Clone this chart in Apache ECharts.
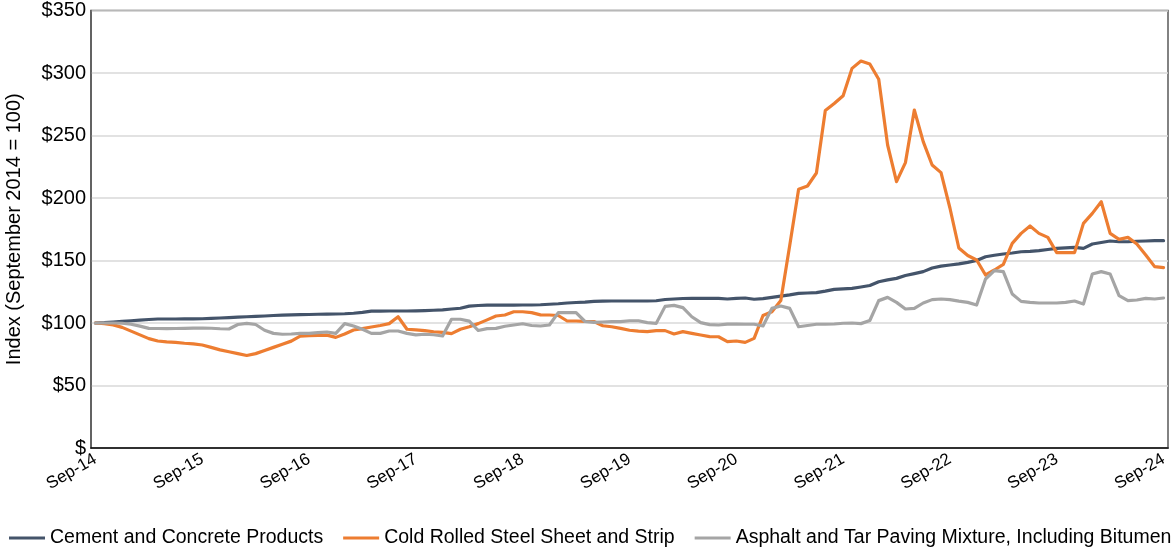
<!DOCTYPE html>
<html>
<head>
<meta charset="utf-8">
<script src="https://cdn.jsdelivr.net/npm/echarts@6/dist/echarts.min.js"></script>
<style>
  html, body { margin: 0; padding: 0; background: #fff; }
  #chart { width: 1176px; height: 547px; }
</style>
</head>
<body>
<div id="chart"></div>
<script>
// monthly index, Sep-14 = 100
const monthNames = ['Jan','Feb','Mar','Apr','May','Jun','Jul','Aug','Sep','Oct','Nov','Dec'];
const months = [];
for (let i = 0; i < 121; i++) {
  const m = (8 + i) % 12;
  const y = 14 + Math.floor((8 + i) / 12);
  months.push(monthNames[m] + '-' + y);
}

const seriesNames = [
  'Cement and Concrete Products',
  'Cold Rolled Steel Sheet and Strip',
  'Asphalt and Tar Paving Mixture, Including Bitumen'
];

const cement = [
  100, 100.3, 100.8, 101.3, 101.8, 102.3, 102.8, 103.2, 103.2, 103.2,
  103.3, 103.3, 103.4, 103.7, 104, 104.3, 104.7, 105, 105.3, 105.6,
  106, 106.3, 106.5, 106.7, 106.8, 107, 107.1, 107.2, 107.4, 107.8,
  108.5, 109.5, 109.5, 109.6, 109.6, 109.6, 109.7, 109.9, 110.2, 110.5,
  111.2, 111.8, 113.5, 114, 114.3, 114.3, 114.3, 114.3, 114.4, 114.4,
  114.6, 115, 115.4, 116, 116.4, 116.7, 117.3, 117.5, 117.6, 117.6,
  117.6, 117.6, 117.6, 117.8, 118.8, 119.2, 119.6, 119.7, 119.7, 119.8,
  119.7, 119.2, 119.7, 120, 119, 119.5, 120.5, 121.5, 122.5, 123.7,
  124, 124.3, 125.5, 126.9, 127.3, 127.7, 128.8, 130, 133, 134.5,
  135.7, 138, 139.5, 141.1, 144, 145.5, 146.4, 147.3, 148.5, 150,
  153, 154.2, 155.2, 156, 157, 157.3, 157.9, 158.8, 159.7, 160.1,
  160.5, 159.7, 163.2, 164.4, 165.6, 165, 165, 165.4, 165.6, 165.9,
  165.9
];

const steel = [
  100, 99.5, 98.5, 96.5, 93.5, 90.5, 87.5, 85.6, 84.9, 84.5,
  83.8, 83.3, 82.4, 80.5, 78.5, 77, 75.5, 74, 75.5, 78,
  80.5, 83, 85.5, 89.5, 89.8, 90.1, 90.3, 88.5, 91.2, 94.4,
  95.5, 96.8, 98, 99.5, 105, 95, 94.5, 93.9, 93, 92.5,
  91.5, 95, 97, 99.5, 102.5, 105.6, 106.4, 109, 109, 108.3,
  106.5, 106.4, 106, 101.6, 101.6, 101.3, 101.2, 97.8, 97, 95.7,
  94.2, 93.5, 93.1, 93.9, 93.9, 91.2, 93.1, 91.7, 90.4, 89.1,
  89, 85.1, 85.6, 84.5, 87.7, 106, 109, 118, 162, 207,
  209.6, 220, 270, 275.6, 281.8, 303.7, 309.6, 307.2, 295, 242.4,
  213.1, 228.3, 270.4, 245.1, 226.4, 220.3, 192, 160, 154, 150.4,
  138.4, 142.4, 146.9, 163.7, 171.7, 177.6, 171.7, 168.5, 156.3, 156.3,
  156.3, 179.7, 187.7, 197, 171.7, 166.9, 168.5, 163.2, 154.4, 145.1,
  144.3
];

const asphalt = [
  100, 100, 100, 99.8, 99, 97.5, 95.7, 95.6, 95.5, 95.6,
  95.7, 95.9, 96, 95.8, 95.4, 95.2, 98.8, 99.7, 98.8, 94.2,
  91.7, 91, 91.2, 91.7, 91.7, 92.3, 92.8, 91.7, 99.5, 97.6,
  95, 91.7, 91.7, 93.6, 93.6, 91.7, 90.5, 91, 90.6, 89.6,
  103, 103, 101.5, 94, 95.5, 95.7, 97.4, 98.4, 99.4, 98,
  97.6, 98.4, 108.3, 108.3, 108.3, 101.2, 100.5, 100.8, 101.1, 101.1,
  101.8, 101.8, 100.3, 99.7, 113.3, 114.1, 112.3, 105, 100.3, 98.7,
  98.4, 99.1, 99.2, 99, 99, 97.6, 111.7, 113.6, 111.7, 97,
  98, 99, 99, 99.2, 99.8, 100, 99.5, 102, 117.9, 120.5,
  116.5, 111.2, 111.7, 116, 118.7, 119.2, 118.7, 117.5, 116.5, 114.4,
  135.2, 141.9, 141.1, 123.2, 117.3, 116.5, 116, 116, 116, 116.5,
  117.6, 115.2, 139.2, 141.1, 139.2, 121.9, 117.9, 118.4, 119.7, 119.2,
  120
];

const colors = ['#44546A', '#ED7D31', '#A5A5A5'];
const fontFamily = '"Liberation Sans", Arial, sans-serif';

const chart = echarts.init(document.getElementById('chart'), null, { renderer: 'canvas' });

function lineSeries(name, data, color) {
  return {
    name,
    type: 'line',
    data,
    showSymbol: false,
    symbol: 'none',
    lineStyle: { color, width: 3.2, cap: 'round', join: 'round' },
    itemStyle: { color },
    emphasis: { disabled: true },
    xAxisIndex: 0,
    yAxisIndex: 0,
  };
}

chart.setOption({
  animation: false,
  backgroundColor: '#fff',
  textStyle: { fontFamily },
  grid: {
    left: 91, right: 8, top: 10.5, bottom: 99,
    outerBoundsMode: 'none',
    containLabel: false,
    show: true, borderColor: '#595959', borderWidth: 1.5,
  },
  legend: {
    top: 528,
    left: 9,
    width: 1167,
    padding: 0,
    itemWidth: 36,
    itemHeight: 3,
    itemGap: 20,
    icon: 'rect',
    textStyle: { fontSize: 19.5, color: '#000', fontFamily },
    data: seriesNames,
  },
  xAxis: [
    {
      type: 'category',
      data: months,
      boundaryGap: true,
      axisLine: { lineStyle: { color: '#000', width: 1.5 } },
      axisTick: {
        inside: true, length: 5,
        interval: (i) => i % 3 === 0,
        lineStyle: { color: '#000' },
      },
      axisLabel: {
        interval: (i) => i % 12 === 0,
        rotate: 30,
        margin: 10,
        fontSize: 17,
        color: '#000',
        fontFamily,
      },
      splitLine: { show: false },
    },
    {
      type: 'category',
      data: months,
      boundaryGap: true,
      position: 'bottom',
      axisLine: { show: false },
      axisTick: {
        length: 6,
        interval: (i) => i % 12 === 0,
        lineStyle: { color: '#000' },
      },
      axisLabel: { show: false },
    },
  ],
  yAxis: {
    type: 'value',
    min: 0, max: 350, interval: 50,
    name: 'Index (September 2014 = 100)',
    nameLocation: 'middle',
    nameGap: 67,
    nameTextStyle: { fontSize: 20, color: '#000', fontFamily },
    axisLine: { show: true, lineStyle: { color: '#595959', width: 1.5 } },
    axisTick: { show: false },
    axisLabel: {
      fontSize: 20, color: '#000', margin: 5, fontFamily,
      formatter: (v) => (v === 0 ? '$' : '$' + v),
    },
    splitLine: { lineStyle: { color: '#D9D9D9', width: 1.5 } },
  },
  series: [
    lineSeries(seriesNames[0], cement, colors[0]),
    lineSeries(seriesNames[1], steel, colors[1]),
    lineSeries(seriesNames[2], asphalt, colors[2]),
  ],
});
</script>
</body>
</html>
